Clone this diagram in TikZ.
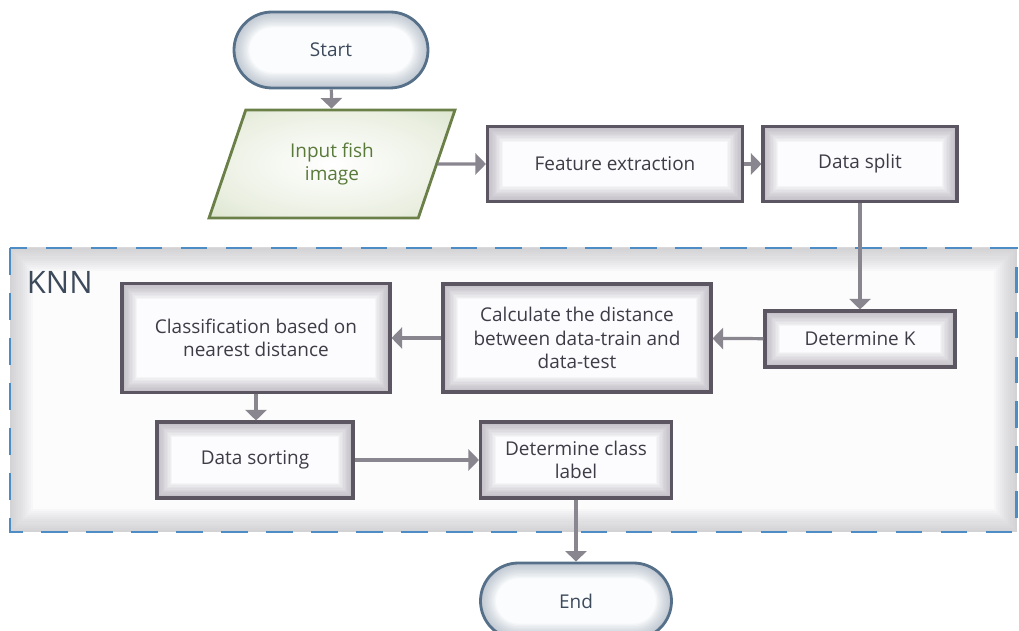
\documentclass[tikz,border=0pt]{standalone}
\usepackage{fontspec}
\setmainfont{Open Sans}
\usetikzlibrary{arrows.meta,positioning,shapes.geometric}
\definecolor{boxline}{HTML}{5B5662}
\definecolor{boxglow}{HTML}{8E8A96}
\definecolor{boxfill}{HTML}{FCFBFD}
\definecolor{termline}{HTML}{56708A}
\definecolor{termglow}{HTML}{8C9CAE}
\definecolor{termfill}{HTML}{FBFCFD}
\definecolor{inline}{HTML}{6B8048}
\definecolor{inglow}{HTML}{C9D6B2}
\definecolor{intext}{HTML}{5A7A3A}
\definecolor{txt}{HTML}{3E3C46}
\definecolor{arrowc}{HTML}{8A8690}
\definecolor{knnline}{HTML}{4D8CC4}
\definecolor{knnfill}{HTML}{FCFCFC}
\definecolor{knnglow}{HTML}{A8A8AE}
\definecolor{knntext}{HTML}{3D4A5C}
\pgfdeclareradialshading{glowin}{\pgfpoint{0bp}{0bp}}{color(0bp)=(white); color(26bp)=(white!60!inglow); color(50bp)=(inglow); color(72bp)=(inglow)}
\tikzset{
  glow/.style n args={2}{path picture={
    \foreach \w in {2,4,...,22}
      \draw[#1, opacity=0.06, line width=\w pt, rounded corners=#2]
        (path picture bounding box.south west) rectangle (path picture bounding box.north east);
  }},
  stepbox/.style={
    draw=boxline,
    line width=2.2pt,
    fill=boxfill,
    glow={boxglow}{0pt},
    align=center,
    text=txt,
    inner sep=2pt,
    font=\fontsize{13.5}{16.5}\selectfont
  },
  terminal/.style={
    draw=termline,
    line width=2pt,
    fill=termfill,
    glow={termglow}{0.95cm},
    rounded corners=0.95cm,
    minimum width=4.85cm,
    minimum height=1.9cm,
    text=knntext,
    font=\fontsize{13.5}{16.5}\selectfont
  },
  inputbox/.style={
    trapezium,
    trapezium left angle=69,
    trapezium right angle=111,
    trapezium stretches=true,
    draw=inline,
    line width=2pt,
    shading=glowin,
    align=center,
    text=intext,
    font=\fontsize{13.5}{16.5}\selectfont
  },
  flow/.style={-{Triangle[length=7.5pt,width=15pt]}, line width=2.3pt, draw=arrowc},
  knnbox/.style={draw=knnline, line width=2pt, dash pattern=on 19pt off 13pt}
}

\begin{document}
\begin{tikzpicture}
  \useasboundingbox (0,0) rectangle (25.475,-15.775);
  \clip (0,0) rectangle (25.475,-15.775);
  % KNN group
  \fill[knnfill] (0.25,-6.2) rectangle (25.42,-13.3);
  \begin{scope}
    \clip (0.25,-6.2) rectangle (25.42,-13.3);
    \foreach \w in {3,6,...,33}
      \draw[knnglow, opacity=0.05, line width=\w pt] (0.25,-6.2) rectangle (25.42,-13.3);
  \end{scope}
  \draw[knnbox] (0.25,-6.2) rectangle (25.42,-13.3);
  \node[text=knntext, font=\fontsize{22}{26}\selectfont, anchor=west] (knn) at (0.55,-7.07) {KNN};
  % flow nodes
  \node[terminal] (start) at (8.275,-1.25) {Start};
  \node[inputbox, minimum width=6.2cm, minimum height=2.7cm] (input) at (8.3,-4.1) {Input fish\\image};
  \node[stepbox, minimum width=6.375cm, minimum height=1.875cm] (feat) at (15.375,-4.1) {Feature extraction};
  \node[stepbox, minimum width=4.85cm, minimum height=1.875cm] (split) at (21.5,-4.1) {Data split};
  \node[stepbox, minimum width=4.75cm, minimum height=1.4cm] (detk) at (21.5,-8.475) {Determine K};
  \node[stepbox, minimum width=6.7cm, minimum height=2.7cm] (calc) at (14.425,-8.45) {Calculate the distance\\between data-train and\\data-test};
  \node[stepbox, minimum width=6.7cm, minimum height=2.72cm] (classif) at (6.4,-8.45) {Classification based on\\nearest distance};
  \node[stepbox, minimum width=4.9cm, minimum height=1.9cm] (sort) at (6.375,-11.5) {Data sorting};
  \node[stepbox, minimum width=4.775cm, minimum height=1.9cm] (clabel) at (14.4,-11.5) {Determine class\\label};
  \node[terminal, minimum width=4.775cm] (end) at (14.4,-15.025) {End};
  % connectors
  \draw[flow] (start) -- (input);
  \draw[flow] (input.east) -- (feat.west);
  \draw[flow] (feat) -- (split);
  \draw[flow] (split) -- (detk);
  \draw[flow] (detk) -- (calc);
  \draw[flow] (calc) -- (classif);
  \draw[flow] (classif.south) -- (classif.south |- sort.north);
  \draw[flow] (sort) -- (clabel);
  \draw[flow] (clabel) -- (end);
\end{tikzpicture}
\end{document}
